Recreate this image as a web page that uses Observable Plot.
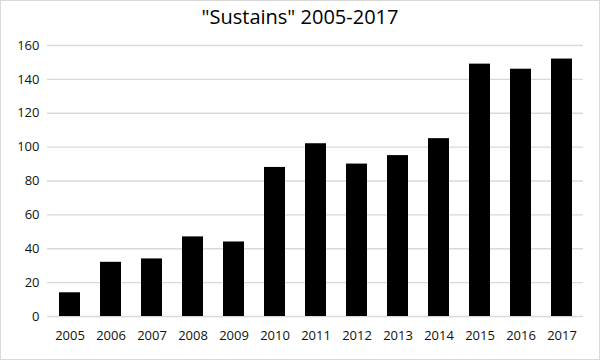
<!DOCTYPE html>
<html>
<head>
<meta charset="utf-8">
<script src="https://cdn.jsdelivr.net/npm/d3@7"></script>
<script src="https://cdn.jsdelivr.net/npm/@observablehq/plot@0.6"></script>
<style>
  html, body { margin: 0; padding: 0; background: #fff; }
  #wrap { position: relative; width: 600px; height: 360px; background: #fff; font-family: "Open Sans", sans-serif; }
  #frame { position: absolute; left: 0; top: 0; width: 598px; height: 358px; border: 1px solid #d9d9d9; pointer-events: none; }
  #title { height: 34px; line-height: 34px; text-align: center; font-size: 20px; color: #000; }
  svg { display: block; }
</style>
</head>
<body>
<div id="wrap">
  <div id="title">"Sustains" 2005-2017</div>
  <div id="chart"></div>
  <div id="frame"></div>
</div>
<script>
const years = ["2005","2006","2007","2008","2009","2010","2011","2012","2013","2014","2015","2016","2017"];
const values = [14, 32, 34, 47, 44, 88, 102, 90, 95, 105, 149, 146, 152];
const yTicks = [0, 20, 40, 60, 80, 100, 120, 140, 160];

const data = years.map((y, i) => ({year: y, value: values[i]}));

const chart = Plot.plot({
  width: 600,
  height: 326,
  marginTop: 11,
  marginBottom: 44,
  marginLeft: 47,
  marginRight: 17,
  style: {fontFamily: "Open Sans, sans-serif", fontSize: "13px", color: "#111", background: "#fff"},
  x: {domain: years, paddingInner: 0.49, paddingOuter: 0.245, label: null, tickSize: 0, tickPadding: 14},
  y: {domain: [0, 160], ticks: yTicks, label: null, tickSize: 0, tickPadding: 8},
  marks: [
    Plot.ruleY(yTicks, {stroke: "#d9d9d9", strokeWidth: 1.3}),
    Plot.barY(data, {x: "year", y: "value", fill: "#000"})
  ]
});
document.getElementById("chart").appendChild(chart);
</script>
</body>
</html>
